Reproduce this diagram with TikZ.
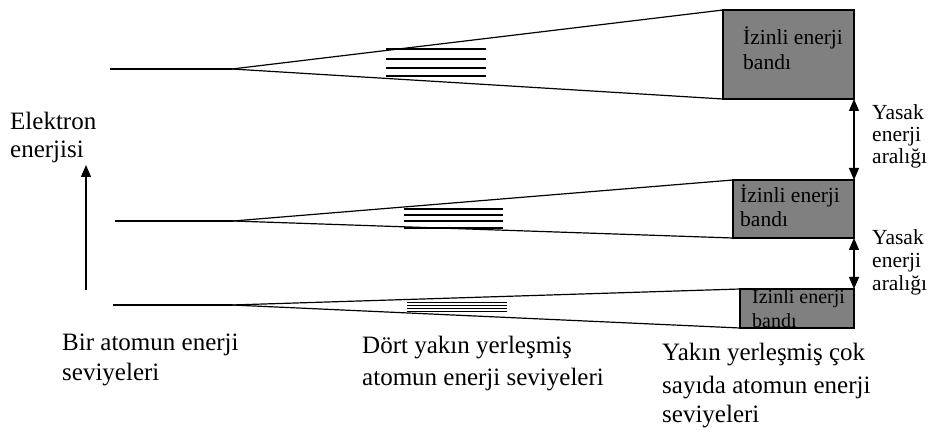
\documentclass[tikz,border=0pt]{standalone}
\usepackage{fontspec}
\setmainfont{Liberation Serif}
\usetikzlibrary{arrows.meta}

\definecolor{bandgray}{RGB}{128,128,128}

\begin{document}
\begin{tikzpicture}[x=1pt, y=-1pt]
    %--------------------%
    % Parameters
    %--------------------%
    \def\linethic{1.2pt}
    \def\bigfont{\fontsize{25}{30}\selectfont}
    \def\smallfont{\fontsize{21.5}{26}\selectfont}
    \def\gapfont{\fontsize{21.5}{26}\selectfont}

    \tikzset{
        level/.style={line width=\linethic},
        band/.style={draw=black, fill=bandgray, line width=\linethic, inner sep=0pt, outer sep=0pt, anchor=north west},
        biglabel/.style={font=\bigfont, anchor=base west, inner sep=0pt},
        smalllabel/.style={font=\smallfont, anchor=base west, inner sep=0pt},
        gaplabel/.style={font=\gapfont, anchor=base west, inner sep=0pt},
        gaparrow/.style={line width=\linethic, {Triangle[length=12pt,width=10pt]}-{Triangle[length=12pt,width=10pt]}},
        axisarrow/.style={line width=\linethic, -{Triangle[length=12pt,width=10pt]}}
    }

    \useasboundingbox (0,0) rectangle (929,430);

    %--------------------%
    % Allowed Bands
    %--------------------%
    \node[band, minimum width=131, minimum height=89] (band1) at (723,10) {};
    \node[band, minimum width=121, minimum height=58] (band2) at (733,180) {};
    \node[band, minimum width=114, minimum height=39] (band3) at (740,289) {};

    %--------------------%
    % Top Fan
    %--------------------%
    \coordinate (single1) at (110,69);
    \coordinate (split1) at (232,69);
    \draw[level] (single1) -- (split1);
    \draw[level] (split1) -- (band1.north west);
    \draw[level] (split1) -- (band1.south west);
    \draw[level] (386,49) -- (486,49);
    \draw[level] (386,59) -- (486,59);
    \draw[level] (386,68) -- (486,68);
    \draw[level] (386,76) -- (486,76);

    %--------------------%
    % Middle Fan
    %--------------------%
    \coordinate (single2) at (115,221);
    \coordinate (split2) at (233,221);
    \draw[level] (single2) -- (split2);
    \draw[level] (split2) -- (band2.north west);
    \draw[level] (split2) -- (band2.south west);
    \draw[level] (404,209) -- (503,209);
    \draw[level] (404,215) -- (503,215);
    \draw[level] (404,221) -- (503,221);
    \draw[level] (404,228) -- (503,228);

    %--------------------%
    % Bottom Fan
    %--------------------%
    \coordinate (single3) at (113,305);
    \coordinate (split3) at (232,305);
    \draw[level] (single3) -- (split3);
    \draw[level] (split3) -- (band3.north west);
    \draw[level] (split3) -- (band3.south west);
    \draw[level] (407,302.5) -- (507,302.5);
    \draw[level] (407,305.5) -- (507,305.5);
    \draw[level] (407,308.5) -- (507,308.5);
    \draw[level] (407,311.5) -- (507,311.5);

    %--------------------%
    % Band Labels
    %--------------------%
    \node[smalllabel] (band1txt1) at (743,45) {İzinli enerji};
    \node[smalllabel] (band1txt2) at (743,70) {bandı};
    \node[smalllabel] (band2txt1) at (740,203) {İzinli enerji};
    \node[smalllabel] (band2txt2) at (740,227) {bandı};
    \begin{scope}
        \clip (band3.north west) rectangle (band3.south east);
        \node[smalllabel, font=\fontsize{20}{24}\selectfont] (band3txt1) at (752,304) {İzinli enerji};
        \node[smalllabel, font=\fontsize{20}{24}\selectfont] (band3txt2) at (752,327) {bandı};
    \end{scope}

    %--------------------%
    % Forbidden Gaps
    %--------------------%
    \draw[gaparrow] (band1.south east) -- (band2.north east);
    \draw[gaparrow] (band2.south east) -- (band3.north east);

    \node[gaplabel] (gap1a) at (872,120) {Yasak};
    \node[gaplabel] (gap1b) at (872,142) {enerji};
    \node[gaplabel] (gap1c) at (872,164) {aralığı};
    \node[gaplabel] (gap2a) at (872,245) {Yasak};
    \node[gaplabel] (gap2b) at (872,268) {enerji};
    \node[gaplabel] (gap2c) at (872,291) {aralığı};

    %--------------------%
    % Energy Axis
    %--------------------%
    \coordinate (axisbot) at (86,290);
    \coordinate (axistop) at (86,165);
    \draw[axisarrow] (axisbot) -- (axistop);
    \node[biglabel] (axis1) at (10,130) {Elektron};
    \node[biglabel] (axis2) at (10,158) {enerjisi};

    %--------------------%
    % Bottom Labels
    %--------------------%
    \node[biglabel] (one1) at (62,350) {Bir atomun enerji};
    \node[biglabel] (one2) at (62,380) {seviyeleri};

    \node[biglabel] (four1) at (362,353) {Dört yakın yerleşmiş};
    \node[biglabel] (four2) at (362,385) {atomun enerji seviyeleri};

    \node[biglabel] (many1) at (662,360) {Yakın yerleşmiş çok};
    \node[biglabel] (many2) at (662,393) {sayıda atomun enerji};
    \node[biglabel] (many3) at (662,422) {seviyeleri};
\end{tikzpicture}
\end{document}
